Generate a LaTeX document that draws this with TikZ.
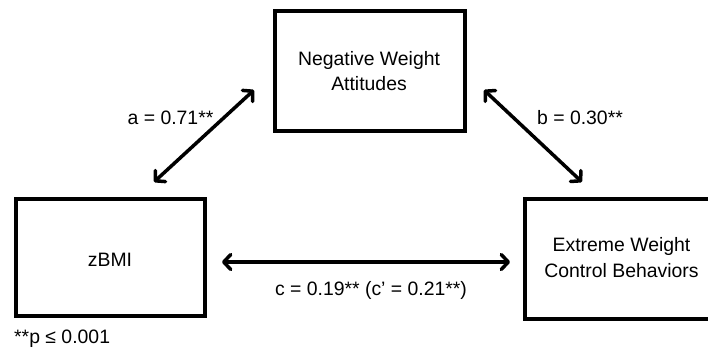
\documentclass[tikz,border=0pt]{standalone}
\usepackage{fontspec}
\setmainfont{Liberation Sans}
\usetikzlibrary{arrows.meta}
\begin{document}
\begin{tikzpicture}[x=1pt,y=-1pt,
  box/.style={draw=black,line width=4pt,inner sep=0pt},
  txt/.style={inner sep=0pt,anchor=base,font=\fontsize{19.4pt}{25pt}\selectfont},
  link/.style={line width=3.5pt,line cap=round,line join=round,
    {Straight Barb[length=7pt,width=15pt,line cap=round,line join=round]}-{Straight Barb[length=7pt,width=15pt,line cap=round,line join=round]}}]
\useasboundingbox (0,0) rectangle (708,348);
\clip (0,0) rectangle (708,348);
% boxes
\node[box,minimum width=190pt,minimum height=120pt] (nwa) at (370,71) {};
\node[box,minimum width=189pt,minimum height=117pt] (zbmi) at (110.5,257.5) {};
\node[box,minimum width=185pt,minimum height=120pt] (ewcb) at (617.5,259) {};
% box texts
\node[txt] (nwa1) at (369,65) {Negative Weight};
\node[txt] (nwa2) at (369,90) {Attitudes};
\node[txt] (zt) at (110,266) {zBMI};
\node[txt] (ew1) at (621.5,251) {Extreme Weight};
\node[txt] (ew2) at (621.5,277) {Control Behaviors};
% arrow ends
\coordinate (a1) at (154,182);
\coordinate (a2) at (254,90);
\coordinate (b1) at (484,90);
\coordinate (b2) at (582,182);
\coordinate (c1) at (222,262);
\coordinate (c2) at (510,262);
\draw[link] (a1) -- (a2);
\draw[link] (b1) -- (b2);
\draw[link] (c1) -- (c2);
% labels
\node[txt] (la) at (170.5,124) {a = 0.71**};
\node[txt] (lb) at (580,124) {b = 0.30**};
\node[txt] (lc) at (371,295) {c = 0.19** (c' = 0.21**)};
\node[txt,anchor=base west] (lp) at (14,343) {**p ≤ 0.001};
\end{tikzpicture}
\end{document}
